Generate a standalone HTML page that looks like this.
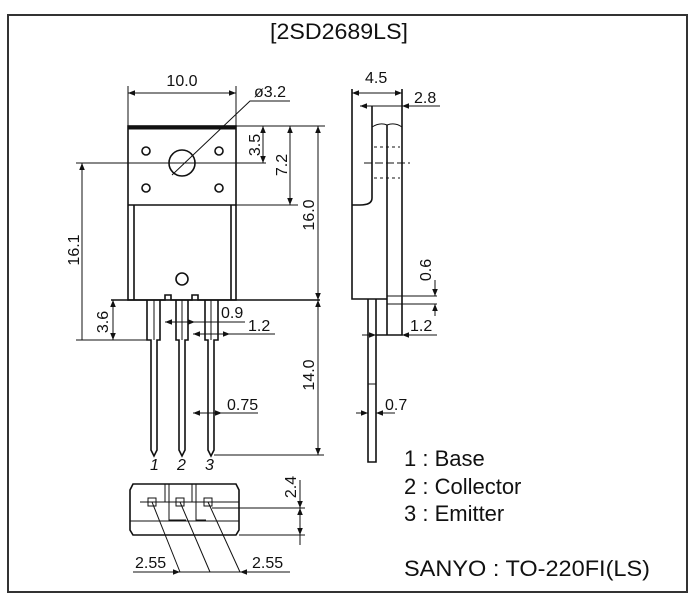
<!DOCTYPE html>
<html><head><meta charset="utf-8"><style>
html,body{margin:0;padding:0;background:#fff;}
svg{display:block;}
text{font-family:"Liberation Sans",sans-serif;fill:#111;}
.d{font-size:16px;}
</style></head><body>
<svg width="692" height="600" viewBox="0 0 692 600" xmlns="http://www.w3.org/2000/svg">
<defs>
<marker id="a" viewBox="0 0 10 10" refX="10" refY="5" markerWidth="9" markerHeight="7" markerUnits="userSpaceOnUse" orient="auto-start-reverse"><path d="M0,1 L10,5 L0,9 z" fill="#111" stroke="none"/></marker>
</defs>
<rect x="8" y="15" width="679" height="577" fill="none" stroke="#333" stroke-width="2"/>
<text x="339" y="39" font-size="22" text-anchor="middle" textLength="138" lengthAdjust="spacingAndGlyphs">[2SD2689LS]</text>

<g stroke="#111" stroke-width="1.6" fill="none">
<rect x="128" y="126" width="108" height="174"/>
<line x1="128" y1="128" x2="236" y2="128" stroke-width="3"/>
<line x1="128" y1="205" x2="236" y2="205"/>
<line x1="134" y1="205" x2="134" y2="300"/>
<line x1="231" y1="205" x2="231" y2="300"/>
<circle cx="182" cy="163" r="13"/>
<circle cx="146" cy="151" r="4"/><circle cx="219" cy="151" r="4"/>
<circle cx="146" cy="188" r="4"/><circle cx="219" cy="188" r="4"/>
<circle cx="182" cy="279" r="6"/>
<path d="M111,300 H165 V295 H171 V300 H192 V295 H198 V300 H320"/>
<path d="M147,300 V340 H151 V450 L154,456 L157,450 V340 H160 V300"/>
<path d="M176,300 V340 H179 V450 L182,456 L185,450 V340 H188 V300"/>
<path d="M205,300 V340 H208 V450 L211,456 L214,450 V340 H218 V300"/>
<line x1="154" y1="300" x2="154" y2="340" stroke-width="1"/>
<line x1="182" y1="300" x2="182" y2="340" stroke-width="1"/>
<line x1="211" y1="300" x2="211" y2="340" stroke-width="1"/>
<line x1="128" y1="86" x2="128" y2="126" stroke-width="1"/>
<line x1="236" y1="86" x2="236" y2="126" stroke-width="1"/>
<line x1="128" y1="93" x2="236" y2="93" stroke-width="1" marker-start="url(#a)" marker-end="url(#a)"/>
<path d="M290,101 H250 L172,175" stroke-width="1"/>
<line x1="236" y1="126" x2="325" y2="126" stroke-width="1"/>
<line x1="236" y1="205" x2="298" y2="205" stroke-width="1"/>
<line x1="263" y1="126" x2="263" y2="163" stroke-width="1" marker-start="url(#a)" marker-end="url(#a)"/>
<line x1="290" y1="126" x2="290" y2="205" stroke-width="1" marker-start="url(#a)" marker-end="url(#a)"/>
<line x1="318" y1="126" x2="318" y2="300" stroke-width="1" marker-start="url(#a)" marker-end="url(#a)"/>
<line x1="318" y1="300" x2="318" y2="455" stroke-width="1" marker-start="url(#a)" marker-end="url(#a)"/>
<line x1="76" y1="163" x2="266" y2="163" stroke-width="1"/>
<line x1="82" y1="163" x2="82" y2="340" stroke-width="1" marker-start="url(#a)"/>
<line x1="76" y1="340" x2="151" y2="340" stroke-width="1"/>
<line x1="113" y1="300" x2="113" y2="340" stroke-width="1" marker-start="url(#a)" marker-end="url(#a)"/>
<line x1="214" y1="455" x2="324" y2="455" stroke-width="1"/>
<line x1="165" y1="322" x2="195" y2="322" stroke-width="1" marker-start="url(#a)" marker-end="url(#a)"/>
<line x1="195" y1="322" x2="245" y2="322" stroke-width="1"/>
<line x1="193" y1="334" x2="230" y2="334" stroke-width="1" marker-start="url(#a)" marker-end="url(#a)"/>
<line x1="230" y1="334" x2="275" y2="334" stroke-width="1"/>
<line x1="193" y1="413" x2="222" y2="413" stroke-width="1" marker-start="url(#a)" marker-end="url(#a)"/>
<line x1="222" y1="413" x2="258" y2="413" stroke-width="1"/>
<path d="M352,89 V299 H387"/>
<path d="M402,89 V335 H376"/>
<path d="M372,106 V198 Q372,205 360,205 H352"/>
<path d="M372,127 Q380,122 387,125 Q395,122 402,127" stroke-width="1"/>
<line x1="387" y1="125" x2="387" y2="335"/>
<path d="M368,299 V462 H376 V299"/>
<line x1="368" y1="384" x2="376" y2="384" stroke-width="1"/>
<line x1="374" y1="147" x2="400" y2="147" stroke-width="1" stroke-dasharray="3,3"/>
<line x1="364" y1="163" x2="410" y2="163" stroke-width="1" stroke-dasharray="8,3"/>
<line x1="374" y1="178" x2="400" y2="178" stroke-width="1" stroke-dasharray="3,3"/>
<line x1="352" y1="93" x2="402" y2="93" stroke-width="1" marker-start="url(#a)" marker-end="url(#a)"/>
<line x1="360" y1="106" x2="372" y2="106" stroke-width="1" marker-start="url(#a)"/>
<line x1="402" y1="106" x2="440" y2="106" stroke-width="1" marker-start="url(#a)"/>
<line x1="372" y1="106" x2="402" y2="106" stroke-width="1"/>
<line x1="387" y1="296" x2="437" y2="296" stroke-width="1"/>
<line x1="387" y1="304" x2="437" y2="304" stroke-width="1"/>
<line x1="435" y1="280" x2="435" y2="296" stroke-width="1" marker-end="url(#a)"/>
<line x1="435" y1="316" x2="435" y2="304" stroke-width="1" marker-end="url(#a)"/>
<line x1="376" y1="335" x2="362" y2="335" stroke-width="1" marker-start="url(#a)"/>
<line x1="402" y1="335" x2="437" y2="335" stroke-width="1" marker-start="url(#a)"/>
<line x1="356" y1="413" x2="368" y2="413" stroke-width="1" marker-end="url(#a)"/>
<line x1="376" y1="413" x2="395" y2="413" stroke-width="1" marker-start="url(#a)"/>
<path d="M133,484 H236 L239,490 V530 L236,535 H133 L130,530 V490 Z"/>
<line x1="130" y1="521" x2="239" y2="521" stroke-width="1"/>
<line x1="140" y1="502" x2="239" y2="502" stroke-width="1"/>
<path d="M165,484 V502 M169,484 V520 H186 M192,484 V502 M196,484 V520 H206" stroke-width="1"/>
<rect x="148" y="498" width="8" height="8" stroke-width="1"/>
<rect x="176" y="498" width="8" height="8" stroke-width="1"/>
<rect x="204" y="498" width="8" height="8" stroke-width="1"/>
<line x1="212" y1="508" x2="305" y2="508" stroke-width="1"/>
<line x1="239" y1="535" x2="305" y2="535" stroke-width="1"/>
<line x1="300" y1="480" x2="300" y2="508" stroke-width="1" marker-end="url(#a)"/>
<line x1="300" y1="508" x2="300" y2="535" stroke-width="1" marker-start="url(#a)" marker-end="url(#a)"/>
<line x1="300" y1="535" x2="300" y2="545" stroke-width="1"/>
<line x1="152" y1="502" x2="180" y2="572" stroke-width="1"/>
<line x1="180" y1="502" x2="210" y2="572" stroke-width="1"/>
<line x1="208" y1="502" x2="240" y2="572" stroke-width="1"/>
<line x1="133" y1="572" x2="180" y2="572" stroke-width="1" marker-end="url(#a)"/>
<line x1="180" y1="572" x2="240" y2="572" stroke-width="1"/>
<line x1="240" y1="572" x2="290" y2="572" stroke-width="1" marker-start="url(#a)"/>
</g>

<text class="d" x="182" y="86" text-anchor="middle">10.0</text>
<text class="d" x="254" y="97">ø3.2</text>
<text class="d" transform="translate(260,145) rotate(-90)" text-anchor="middle">3.5</text>
<text class="d" transform="translate(287,165) rotate(-90)" text-anchor="middle">7.2</text>
<text class="d" transform="translate(314,215) rotate(-90)" text-anchor="middle">16.0</text>
<text class="d" transform="translate(314,375) rotate(-90)" text-anchor="middle">14.0</text>
<text class="d" transform="translate(79,250) rotate(-90)" text-anchor="middle">16.1</text>
<text class="d" transform="translate(108,322) rotate(-90)" text-anchor="middle">3.6</text>
<text class="d" x="221" y="318">0.9</text>
<text class="d" x="248" y="331">1.2</text>
<text class="d" x="227" y="410">0.75</text>
<text class="d" x="365" y="83">4.5</text>
<text class="d" x="414" y="103">2.8</text>
<text class="d" transform="translate(431,270) rotate(-90)" text-anchor="middle">0.6</text>
<text class="d" x="410" y="331">1.2</text>
<text class="d" x="385" y="410">0.7</text>
<text class="d" x="150" y="470" font-style="italic">1</text>
<text class="d" x="177" y="470" font-style="italic">2</text>
<text class="d" x="205" y="470" font-style="italic">3</text>
<text class="d" transform="translate(296,487) rotate(-90)" text-anchor="middle">2.4</text>
<text class="d" x="135" y="568">2.55</text>
<text class="d" x="252" y="568">2.55</text>

<text x="404" y="466" font-size="22">1 : Base</text>
<text x="404" y="494" font-size="22">2 : Collector</text>
<text x="404" y="521" font-size="22">3 : Emitter</text>
<text x="404" y="576" font-size="22" textLength="246" lengthAdjust="spacingAndGlyphs">SANYO : TO-220FI(LS)</text>
</svg>
</body></html>
